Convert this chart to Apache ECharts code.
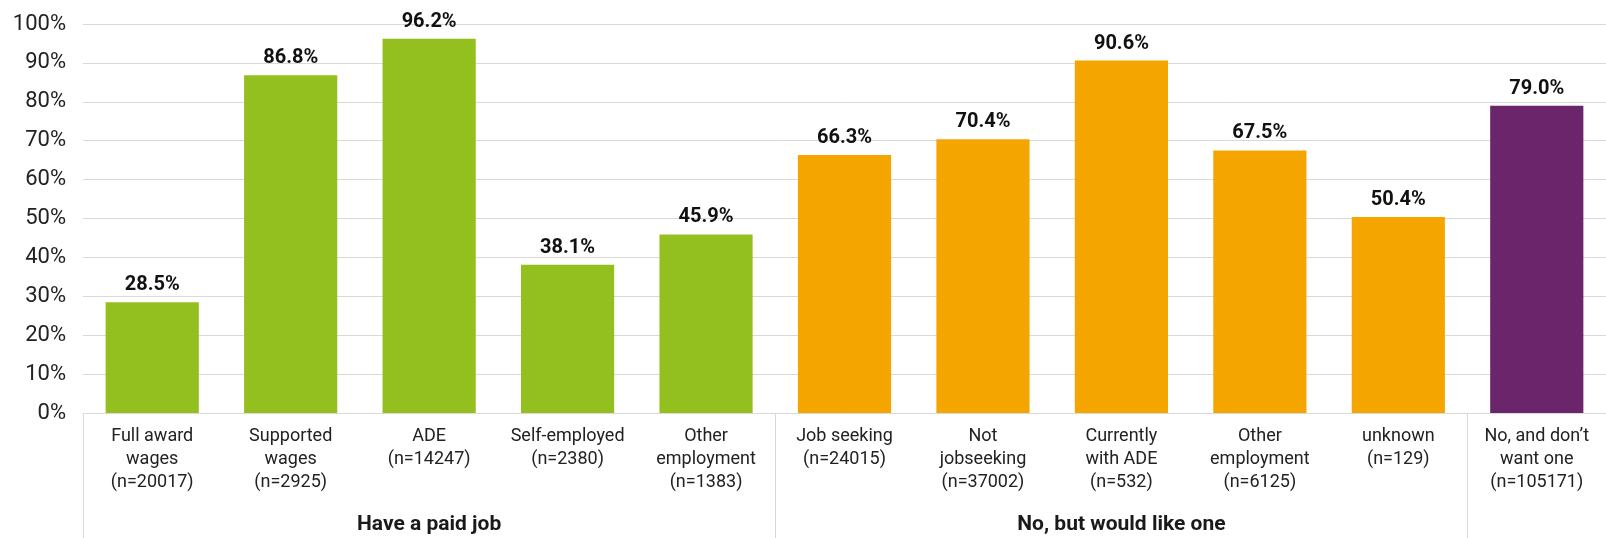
<!DOCTYPE html>
<html>
<head>
<meta charset="utf-8">
<style>
  html, body { margin: 0; padding: 0; background: #fff; }
  #main { width: 1606px; height: 538px; }
</style>
<script src="https://cdn.jsdelivr.net/npm/echarts@6/dist/echarts.min.js"></script>
</head>
<body>
<div id="main"></div>
<script>
// categories (bottom row) and the group each belongs to
const categories = [
  'Full award\nwages\n(n=20017)',
  'Supported\nwages\n(n=2925)',
  'ADE\n(n=14247)',
  'Self-employed\n(n=2380)',
  'Other\nemployment\n(n=1383)',
  'Job seeking\n(n=24015)',
  'Not\njobseeking\n(n=37002)',
  'Currently\nwith ADE\n(n=532)',
  'Other\nemployment\n(n=6125)',
  'unknown\n(n=129)',
  'No, and don\u2019t\nwant one\n(n=105171)'
];
const groupLabels = ['', '', 'Have a paid job', '', '', '', '', 'No, but would like one', '', '', ''];
const values = [28.5, 86.8, 96.2, 38.1, 45.9, 66.3, 70.4, 90.6, 67.5, 50.4, 79.0];
const yTicks = [0, 10, 20, 30, 40, 50, 60, 70, 80, 90, 100];

const green = '#93c01f';
const orange = '#f5a500';
const purple = '#6b256a';
const font = 'Roboto, "Noto Sans", sans-serif';

const chart = echarts.init(document.getElementById('main'));
const option = {
  animation: false,
  grid: { left: 83, right: 0, top: 24, bottom: 125 },
  xAxis: [
    {
      type: 'category',
      data: categories,
      axisLine: { show: true, lineStyle: { color: '#d9d9d9', width: 1 } },
      axisTick: {
        show: true,
        length: 125,
        interval: (i) => i === 0 || i === 5 || i === 10,
        lineStyle: { color: '#d9d9d9', width: 1 }
      },
      axisLabel: {
        interval: 0,
        margin: 12,
        fontFamily: font,
        fontSize: 18,
        lineHeight: 23,
        color: '#222'
      }
    },
    {
      type: 'category',
      position: 'bottom',
      offset: 92,
      data: groupLabels,
      axisLine: { show: false },
      axisTick: { show: false },
      axisLabel: {
        interval: 0,
        margin: 9,
        fontFamily: font,
        fontSize: 21,
        fontWeight: 'bold',
        color: '#1a1a1a'
      }
    }
  ],
  yAxis: {
    type: 'value',
    min: yTicks[0],
    max: yTicks[yTicks.length - 1],
    interval: 10,
    axisLine: { show: false },
    axisTick: { show: false },
    splitLine: { lineStyle: { color: '#d9d9d9', width: 1 } },
    axisLabel: {
      formatter: '{value}%',
      margin: 17,
      fontFamily: font,
      fontSize: 22,
      color: '#222'
    }
  },
  series: [
    {
      type: 'bar',
      xAxisIndex: 0,
      data: values,
      barWidth: '67.3%',
      itemStyle: {
        color: (p) => (p.dataIndex < 5 ? green : p.dataIndex < 10 ? orange : purple)
      },
      label: {
        show: true,
        position: 'top',
        distance: 7,
        formatter: (p) => p.value.toFixed(1) + '%',
        fontFamily: font,
        fontSize: 20,
        fontWeight: 'bold',
        color: '#111'
      }
    }
  ]
};
chart.setOption(option);
</script>
</body>
</html>
